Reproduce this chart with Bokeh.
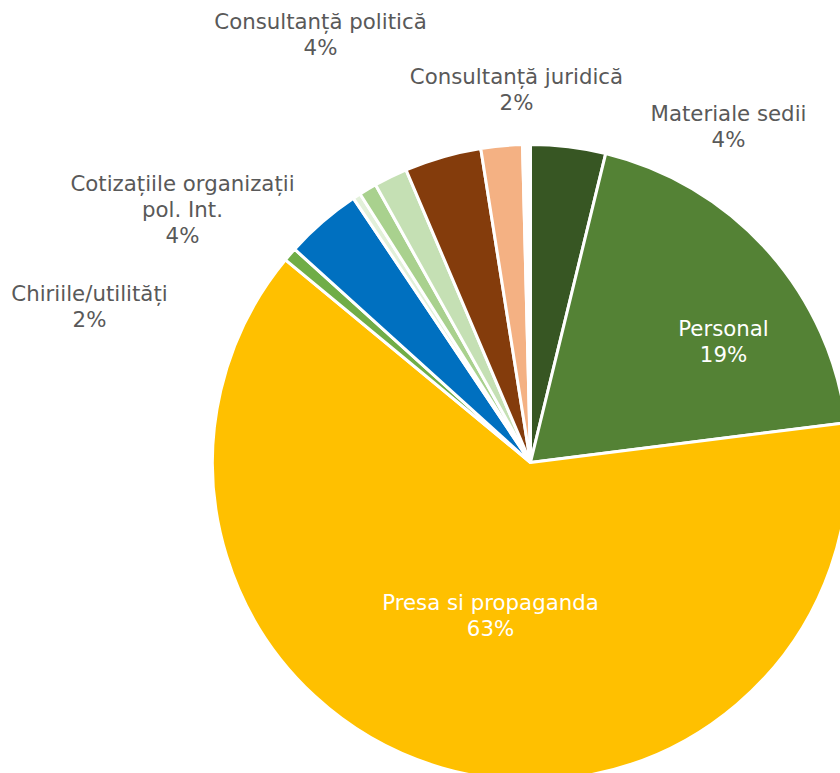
import math
from bokeh.plotting import figure
from bokeh.models import ColumnDataSource, Range1d
from bokeh.core.properties import value
from bokeh.embed import file_html
from bokeh.resources import INLINE

# ---- data (clockwise from 12 o'clock) ----
categories = ["Materiale sedii", "Personal", "Presa si propaganda", "Chiriile/utilități",
              "Cotizațiile organizații pol. Int.", "", "", "",
              "Consultanță politică", "Consultanță juridică", ""]
shares = [3.8, 19.2, 63.0, 0.7, 3.9, 0.4, 0.9, 1.7, 3.9, 2.1, 0.4]
pct_labels = ["4%", "19%", "63%", "2%", "4%", "", "", "", "4%", "2%", ""]
colors = ["#375623", "#548235", "#FFC000", "#70AD47", "#0070C0", "#E2F0D9",
          "#A9D18E", "#C5E0B4", "#843C0C", "#F4B183", "#FFFFFF"]

# ---- layout ----
W, H = 840, 773
def px(X, Y):
    return X, H - Y

CX, CY = px(530, 462)
R = 318

# label layout: (category index, lines of category text, centre of first line, colour)
label_layout = [
    (0, ["Materiale sedii"], (728, 113), "#595959"),
    (1, ["Personal"], (723, 328), "#FFFFFF"),
    (2, ["Presa si propaganda"], (490, 602), "#FFFFFF"),
    (3, ["Chiriile/utilități"], (89, 293), "#595959"),
    (4, ["Cotizațiile organizații", "pol. Int."], (182, 183), "#595959"),
    (8, ["Consultanță politică"], (320, 21), "#595959"),
    (9, ["Consultanță juridică"], (516, 76), "#595959"),
]
LINE = 26

total = sum(shares)
starts, ends = [], []
acc = 0.0
for s in shares:
    a0 = acc / total * 360.0
    acc += s
    a1 = acc / total * 360.0
    starts.append(math.radians(90 - a0))
    ends.append(math.radians(90 - a1))

src = ColumnDataSource(dict(x=[CX] * len(shares), y=[CY] * len(shares),
                            start=starts, end=ends, color=colors, name=categories))

p = figure(width=W, height=H, output_backend="svg", toolbar_location=None,
           x_range=Range1d(0, W), y_range=Range1d(0, H), min_border=0)
p.axis.visible = False
p.grid.visible = False
p.outline_line_color = None
p.background_fill_color = "white"
p.border_fill_color = "white"

p.wedge(x="x", y="y", radius=R, radius_units="screen", start_angle="start", end_angle="end",
        direction="clock", fill_color="color", line_color="white", line_width=3, source=src)

tx, ty, tt, tc = [], [], [], []
for idx, lines, (X, Y), col in label_layout:
    allines = lines + [pct_labels[idx]]
    for k, ln in enumerate(allines):
        x, y = px(X, Y + k * LINE)
        tx.append(x); ty.append(y); tt.append(ln); tc.append(col)

p.text(x=tx, y=ty, text=tt, text_color=tc, text_align="center", text_baseline="middle",
       text_font=value("DejaVu Sans"), text_font_size="21.3px")

open("out.html", "w").write(file_html(p, INLINE))
